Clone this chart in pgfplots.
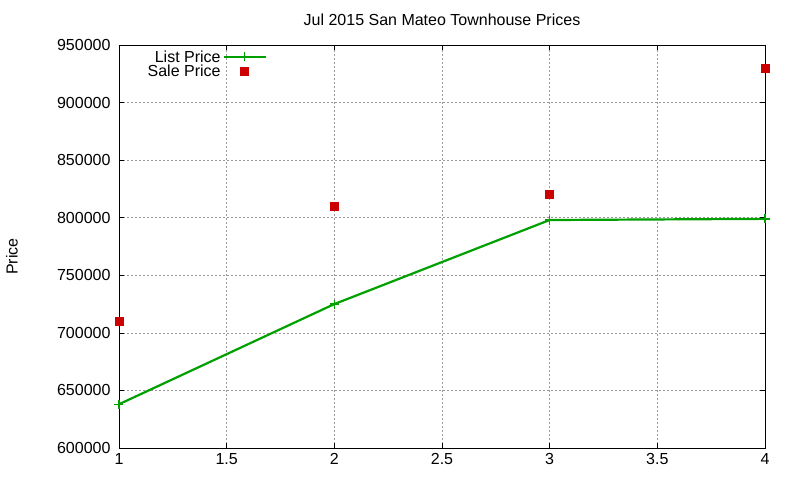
\documentclass[border=0pt]{standalone}
\usepackage{pgfplots}
\pgfplotsset{compat=1.18}
\usepackage{fontspec}
\setmainfont{Liberation Sans}
\definecolor{lgreen}{RGB}{0,160,0}
\definecolor{sred}{RGB}{204,0,0}
\begin{document}
\begin{tikzpicture}
\useasboundingbox (-119bp,-32bp) rectangle (681bp,448bp);
\begin{axis}[
  at={(0,0)}, anchor=south west,
  scale only axis, width=646bp, height=403bp,
  xmin=1, xmax=4, ymin=600000, ymax=950000,
  xtick={1,1.5,2,2.5,3,3.5,4},
  ytick={600000,650000,700000,750000,800000,850000,900000,950000},
  scaled y ticks=false,
  /pgf/number format/fixed,
  /pgf/number format/set thousands separator={},
  /pgf/number format/assume math mode=true,
  tick align=inside,
  major tick length=5bp,
  axis line style={line width=0.9bp},
  tick style={line width=0.7bp, black},
  grid=major,
  major grid style={gray!80, line width=0.6bp, dash pattern=on 2bp off 2bp},
  font=\fontsize{16bp}{18bp}\selectfont,
  ticklabel style={font=\fontsize{16bp}{18bp}\selectfont},
  xticklabel style={yshift=-2bp},
  yticklabel style={xshift=-5bp},
  title={Jul 2015 San Mateo Townhouse Prices},
  title style={at={(axis description cs:0.5,1)}, anchor=center, yshift=19bp, font=\fontsize{16bp}{18bp}\selectfont},
  ylabel={Price},
  ylabel style={at={(axis description cs:-0.1656,0.475)}, anchor=center, font=\fontsize{16bp}{18bp}\selectfont},
  legend style={at={(axis description cs:0.2291,0.992)}, anchor=north east, draw=none, fill=none,
    font=\fontsize{16bp}{16bp}\selectfont, inner sep=0pt, row sep=-2.5bp},
  legend cell align=right,
  legend plot pos=right,
  legend image code/.code={\draw[mark repeat=2,mark phase=2,#1] plot coordinates {(0bp,0bp) (21bp,0bp) (42bp,0bp)};},
]
\addplot[color=lgreen, line width=2.2bp, mark=+, mark size=4.5bp, mark options={line width=1.4bp}]
  coordinates {(1,638000) (2,725000) (3,798000) (4,799000)};
\addlegendentry{List Price}
\addplot[only marks, color=sred, mark=square*, mark size=4bp]
  coordinates {(1,710000) (2,810000) (3,820000) (4,930000)};
\addlegendentry{Sale Price}
\end{axis}
\end{tikzpicture}
\end{document}
